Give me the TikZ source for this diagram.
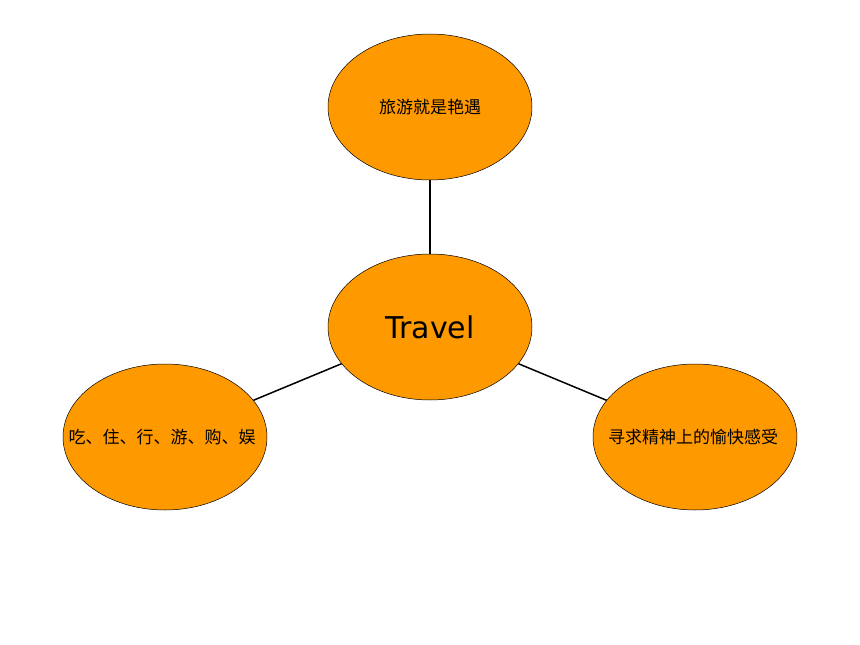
\documentclass[tikz,border=0pt]{standalone}
\usepackage{fontspec}
\setmainfont{DejaVu Sans}
\newfontfamily\cjk{Noto Sans CJK SC}
\usetikzlibrary{shapes.geometric}
\begin{document}
\begin{tikzpicture}[x=1pt,y=-1pt,
  bub/.style={ellipse,draw=black,line width=0.5pt,fill=orange!90!yellow!95!red,minimum width=204pt,minimum height=146pt,inner sep=0pt},
  conn/.style={line width=1.5pt}]
\definecolor{bubfill}{RGB}{255,153,0}
\useasboundingbox (0,0) rectangle (860,645);
\tikzset{bub/.append style={fill=bubfill}}
\node[bub] (top) at (430,107) {\cjk\fontsize{17}{20}\selectfont 旅游就是艳遇};
\node[bub] (c) at (430,327) {\fontsize{30}{36}\selectfont Travel};
\node[bub] (l) at (165,437) {};
\node[bub] (r) at (695,437) {};
\node (lt) at (162,437) {\cjk\fontsize{17}{20}\selectfont 吃、住、行、游、购、娱};
\node (rt) at (693,437) {\cjk\fontsize{17}{20}\selectfont 寻求精神上的愉快感受};
\draw[conn] (top) -- (c);
\draw[conn] (c) -- (l);
\draw[conn] (c) -- (r);
\end{tikzpicture}
\end{document}
